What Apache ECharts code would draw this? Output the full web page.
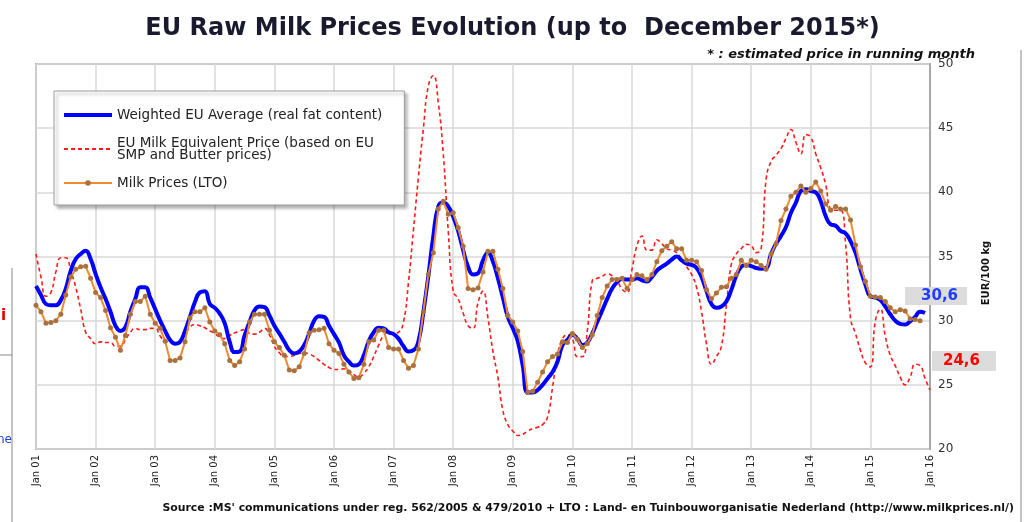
<!DOCTYPE html>
<html>
<head>
<meta charset="utf-8">
<script src="https://cdn.jsdelivr.net/npm/echarts@6/dist/echarts.min.js"></script>
<style>
  html, body { margin: 0; padding: 0; background: #fff; }
  #milkChart { width: 1025px; height: 522px; }
</style>
</head>
<body>
<div id="milkChart"></div>
<script>
// tick labels
const monthNames = ['Jan', 'Feb', 'Mar', 'Apr', 'May', 'Jun', 'Jul', 'Aug', 'Sep', 'Oct', 'Nov', 'Dec'];
const yearLabels = ['01', '02', '03', '04', '05', '06', '07', '08', '09', '10', '11', '12', '13', '14', '15'];
const lastLabel = 'Jan 16';

// EUR/100 kg, monthly from Jan 2001
const weightedAvg = [
    32.7, 32.0, 31.3, 31.2, 31.2, 31.6, 32.5, 33.9, 34.8, 35.2, 35.45, 34.8,
    33.65, 32.6, 31.7, 30.7, 29.6, 29.2, 29.5, 30.7, 31.7, 32.6, 32.6, 31.8,
    30.9, 30.0, 29.2, 28.5, 28.2, 28.35, 29.2, 30.3, 31.45, 32.2, 32.3, 31.3,
    31.0, 30.55, 29.8, 28.35, 27.55, 27.6, 28.85, 29.9, 30.8, 31.1, 31.05, 30.4,
    29.6, 29.0, 28.35, 27.7, 27.45, 27.6, 28.1, 29.0, 30.0, 30.35, 30.3, 29.6,
    28.95, 28.3, 27.3, 26.8, 26.5, 26.6, 27.3, 28.4, 29.1, 29.45, 29.4, 29.1,
    28.95, 28.6, 28.0, 27.6, 27.7, 28.4, 30.7, 33.5, 36.6, 38.9, 39.2, 38.9,
    38.1, 37.0, 35.5, 34.2, 33.6, 33.7, 34.7, 35.3, 34.6, 33.3, 31.8, 30.3,
    29.4, 28.4, 26.5, 24.4, 24.4, 24.6, 25.0, 25.5, 26.0, 26.8, 28.1, 28.5,
    28.9, 28.6, 28.1, 28.3, 29.0, 29.9, 30.8, 31.7, 32.5, 33.0, 33.25, 33.2,
    33.2, 33.3, 33.15, 33.05, 33.4, 33.9, 34.2, 34.45, 34.75, 35.0, 34.7, 34.45,
    34.35, 34.1, 33.4, 32.3, 31.3, 31.0, 31.1, 31.5, 32.4, 33.5, 34.2, 34.35,
    34.25, 34.1, 34.05, 34.1, 35.2, 36.0, 36.6, 37.3, 38.4, 39.2, 40.1, 40.25,
    40.1, 40.0, 39.3, 38.15, 37.5, 37.4, 37.0, 36.8, 36.2, 35.3, 34.0, 32.8,
    31.9, 31.8, 31.6, 31.1, 30.5, 30.0, 29.75, 29.7, 29.95, 30.3, 30.7, 30.6
];

const milkEquiv = [
    35.2, 33.4, 31.9, 32.2, 33.8, 34.9, 34.9, 33.9, 32.6, 30.9, 29.1, 28.6,
    28.2, 28.35, 28.3, 28.3, 28.0, 28.0, 28.5, 29.1, 29.4, 29.3, 29.3, 29.4,
    29.4, 28.8, 28.4, 28.35, 28.3, 28.4, 28.9, 29.5, 29.7, 29.6, 29.45, 29.2,
    29.0, 28.7, 28.6, 28.85, 29.05, 29.2, 29.3, 29.0, 28.95, 29.1, 29.4, 28.9,
    28.0, 27.5, 27.2, 27.2, 27.3, 27.45, 27.5, 27.4, 27.2, 26.9, 26.6, 26.35,
    26.2, 26.2, 26.25, 26.1, 25.8, 25.6, 25.9, 26.4, 27.2, 28.1, 28.85, 29.1,
    29.0, 29.1, 29.9, 33.0, 37.1, 41.2, 45.0, 48.3, 49.1, 47.0, 43.0, 37.0,
    32.3, 31.7, 30.6, 29.6, 29.4, 31.4, 32.3, 30.2, 27.6, 25.6, 23.0, 21.9,
    21.4, 21.05, 21.15, 21.4, 21.6, 21.7, 21.9, 22.5, 24.8, 27.3, 28.6, 28.9,
    28.6, 27.2, 27.2, 29.2, 33.1, 33.3, 33.45, 33.65, 33.5, 33.1, 32.45, 32.2,
    34.0, 35.85, 36.6, 35.5, 35.5, 36.3, 36.0, 35.6, 35.5, 35.3, 34.8, 34.2,
    33.6, 32.6, 30.7, 28.2, 26.6, 27.2, 28.0, 31.2, 34.4, 35.2, 35.6, 35.95,
    35.85, 35.3, 35.6, 41.0, 42.4, 42.9, 43.4, 44.2, 44.9, 43.9, 43.0, 44.5,
    44.3, 43.0, 41.9, 40.6, 38.7, 38.6, 38.6, 36.0, 30.2, 29.0, 27.7, 26.7,
    26.4, 30.0, 30.9, 28.8, 27.3, 26.5, 25.6, 25.0, 25.6, 26.6, 26.5, 25.5,
    24.6
];

const ltoPrices = [
    31.2, 30.7, 29.8, 29.85, 30.0, 30.5, 32.0, 33.4, 34.0, 34.2, 34.25, 33.3,
    32.2, 31.8, 30.8, 29.45, 28.7, 27.7, 28.85, 30.5, 31.5, 31.5, 31.9, 30.5,
    29.8, 29.4, 28.4, 26.9, 26.9, 27.1, 28.35, 30.2, 30.7, 30.7, 31.0, 29.9,
    29.2, 28.9, 28.2, 26.9, 26.5, 26.8, 27.8, 29.9, 30.5, 30.5, 30.5, 29.25,
    28.35, 27.9, 27.3, 26.15, 26.1, 26.4, 27.45, 29.05, 29.25, 29.3, 29.4, 28.2,
    27.7, 27.45, 26.6, 26.0, 25.5, 25.55, 26.6, 28.35, 28.5, 29.25, 29.25, 27.9,
    27.8, 27.8, 26.9, 26.3, 26.5, 27.8, 30.7, 33.6, 35.3, 38.7, 39.3, 38.3,
    38.4, 37.25, 35.8, 32.5, 32.4, 32.55, 33.8, 35.4, 35.4, 34.0, 32.5, 30.4,
    29.9, 29.2, 27.6, 24.4, 24.5, 25.2, 26.0, 26.8, 27.2, 27.4, 28.35, 28.3,
    29.0, 28.55, 27.9, 28.2, 28.9, 30.4, 31.8, 32.7, 33.2, 33.2, 33.3, 32.5,
    33.2, 33.6, 33.5, 33.2, 33.6, 34.6, 35.45, 35.8, 36.15, 35.6, 35.6, 34.7,
    34.7, 34.6, 33.9, 32.4, 31.7, 32.15, 32.6, 32.65, 33.3, 33.6, 34.7, 34.3,
    34.7, 34.6, 34.3, 34.0, 35.2, 36.0, 37.8, 38.7, 39.7, 40.0, 40.5, 40.0,
    40.3, 40.8, 40.1, 39.1, 38.6, 38.9, 38.7, 38.7, 37.85, 35.9, 34.2, 33.05,
    31.9, 31.85, 31.8, 31.5, 31.0, 30.7, 30.85, 30.75, 30.15, 30.1, 30.0
];

const seriesNames = [
    'Weighted EU Average (real fat content)',
    'EU Milk Equivalent Price (based on EU\nSMP and Butter prices)',
    'Milk Prices (LTO)'
];

const categories = [];
yearLabels.forEach(y => {
    monthNames.forEach(mn => categories.push(mn + ' ' + y));
});
categories.push(lastLabel);

const FONT = 'DejaVu Sans';
const isJan = (idx) => idx % 12 === 0;
const commaValue = (p) => {
    const v = Array.isArray(p.value) ? p.value[1] : p.value;
    return v.toFixed(1).replace('.', ',');
};

const milkChart = echarts.init(document.getElementById('milkChart'));

let option = {
    animation: false,
    backgroundColor: '#fff',
    title: [{
        text: 'EU Raw Milk Prices Evolution (up to  December 2015*)',
        left: 'center',
        top: 12,
        textStyle: { fontFamily: FONT, fontSize: 24, fontWeight: 'bold', color: '#1a1a2e' }
    }, {
        text: '* : estimated price in running month',
        right: 45,
        top: 43,
        textStyle: { fontFamily: FONT, fontSize: 13, fontWeight: 'bold', fontStyle: 'italic', color: '#111' }
    }, {
        text: 'Source :MS\' communications under reg. 562/2005 & 479/2010 + LTO : Land- en Tuinbouworganisatie Nederland (http://www.milkprices.nl/)',
        right: 6,
        bottom: 3,
        textStyle: { fontFamily: FONT, fontSize: 10.9, fontWeight: 'bold', color: '#111' }
    }],
    legend: {
        data: [
            { name: seriesNames[0], itemStyle: { opacity: 0 }, lineStyle: { width: 4 } },
            { name: seriesNames[1], itemStyle: { opacity: 0 } },
            { name: seriesNames[2] }
        ],
        orient: 'vertical',
        left: 54,
        top: 91,
        padding: [17, 22, 15, 8],
        itemGap: 14,
        itemWidth: 48,
        itemHeight: 7,
        backgroundColor: '#fff',
        borderColor: '#9a9a9a',
        borderWidth: 1,
        shadowColor: 'rgba(0,0,0,0.3)',
        shadowBlur: 3,
        shadowOffsetX: 3,
        shadowOffsetY: 3,
        selectedMode: false,
        textStyle: { fontFamily: FONT, fontSize: 13.5, color: '#222', lineHeight: 12 }
    },
    grid: {
        left: 36,
        right: 95,
        top: 64,
        bottom: 73,
        show: true,
        borderColor: '#a8a8a8',
        borderWidth: 2
    },
    xAxis: {
        type: 'category',
        boundaryGap: false,
        data: categories,
        axisLine: { show: false },
        axisTick: { show: false },
        axisLabel: {
            interval: (idx) => isJan(idx),
            rotate: 90,
            margin: 6,
            fontFamily: FONT,
            fontSize: 10,
            color: '#222'
        },
        splitLine: {
            show: true,
            interval: (idx) => isJan(idx),
            lineStyle: { color: '#d8d8d8', width: 1.5 }
        }
    },
    yAxis: {
        type: 'value',
        position: 'right',
        min: 20,
        max: 50,
        interval: 5,
        axisLine: { show: true, lineStyle: { color: '#a8a8a8', width: 2 } },
        axisTick: { show: false },
        axisLabel: { margin: 8, fontFamily: FONT, fontSize: 12, color: '#333' },
        splitLine: { lineStyle: { color: '#d8d8d8', width: 1.5 } }
    },
    graphic: [
        // vertical unit name
        {
            type: 'text', x: 986, y: 273, rotation: Math.PI / 2,
            style: { text: 'EUR/100 kg', fontFamily: FONT, fontSize: 10, fontWeight: 'bold', fill: '#111', align: 'center', verticalAlign: 'middle' }
        },
        // bits of the neighbouring window on the left edge, frame on the right
        { type: 'line', shape: { x1: 12, y1: 268, x2: 12, y2: 522 }, style: { stroke: '#8a8a8a', lineWidth: 1 } },
        { type: 'line', shape: { x1: 0, y1: 355, x2: 12, y2: 355 }, style: { stroke: '#8a8a8a', lineWidth: 1 } },
        { type: 'text', x: 1, y: 309, style: { text: 'i', fontFamily: FONT, fontSize: 15, fontWeight: 'bold', fill: '#e00000' } },
        { type: 'text', x: -3, y: 434, style: { text: 'ne', fontFamily: FONT, fontSize: 12, fill: '#2040d0' } },
        { type: 'line', shape: { x1: 1021, y1: 50, x2: 1021, y2: 522 }, style: { stroke: '#b0b0b0', lineWidth: 1.5 } }
    ],
    series: [{
        name: seriesNames[1],
        type: 'line',
        data: milkEquiv,
        smooth: 0.5,
        symbol: 'none',
        z: 2,
        color: '#ff1a1a',
        lineStyle: { color: '#ff1a1a', width: 1.6, type: [4, 3] },
        endLabel: {
            show: true,
            formatter: commaValue,
            distance: 0,
            offset: [2, -29],
            align: 'left',
            verticalAlign: 'middle',
            color: '#ff0000',
            fontFamily: FONT,
            fontSize: 15,
            fontWeight: 'bold',
            backgroundColor: '#dcdcdc',
            padding: [3, 16, 2, 11]
        }
    }, {
        name: seriesNames[0],
        type: 'line',
        data: weightedAvg,
        smooth: 0.5,
        symbol: 'none',
        z: 3,
        color: '#0000ff',
        lineStyle: { color: '#0000ff', width: 4 },
        endLabel: {
            show: true,
            formatter: commaValue,
            distance: 0,
            offset: [-20, -17],
            align: 'left',
            verticalAlign: 'middle',
            color: '#1f3cff',
            fontFamily: FONT,
            fontSize: 15,
            fontWeight: 'bold',
            backgroundColor: '#dcdcdc',
            padding: [2, 9, 1, 16]
        }
    }, {
        name: seriesNames[2],
        type: 'line',
        data: ltoPrices,
        symbol: 'circle',
        symbolSize: 5,
        showSymbol: true,
        showAllSymbol: true,
        z: 4,
        color: '#a8713f',
        itemStyle: { color: '#a8713f' },
        lineStyle: { color: '#ee8a2f', width: 2 }
    }]
};

milkChart.setOption(option);
</script>
</body>
</html>
